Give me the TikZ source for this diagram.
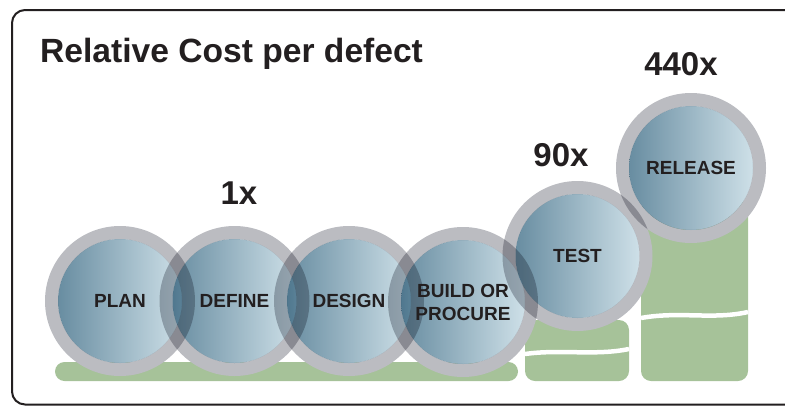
\documentclass[tikz,border=0pt]{standalone}
\usepackage{fontspec}
\setmainfont{Liberation Sans}
\definecolor{ringGray}{RGB}{187,188,193}
\definecolor{stageDark}{RGB}{104,141,161}
\definecolor{stageLight}{RGB}{206,224,232}
\definecolor{barGreen}{RGB}{166,194,153}
\definecolor{inkGray}{RGB}{35,31,32}
\pgfdeclarehorizontalshading{stageShade}{100bp}{color(0bp)=(stageDark); color(25bp)=(stageDark); color(75bp)=(stageLight); color(100bp)=(stageLight)}
\pgfdeclarelayer{bars}
\pgfdeclarelayer{discs}
\pgfsetlayers{bars,discs,main}
\tikzset{
    stage/.style={circle, minimum size=150pt, inner sep=0pt, align=center, text=inkGray,
        font=\fontsize{19}{23}\selectfont\bfseries},
    cost/.style={text=inkGray, font=\fontsize{33}{38}\selectfont\bfseries},
    wave/.style={white, line width=4.5pt},
}

\begin{document}
\begin{tikzpicture}[x=1pt, y=-1pt]
    \useasboundingbox (0,0) rectangle (785,405);
    \clip (0,0) rectangle (785,405);
    \draw[inkGray, line width=2pt, rounded corners=13pt] (12,10) rectangle (830,404.5);
    \node[cost, anchor=base west, inner sep=0pt, font=\fontsize{33.6}{38}\selectfont\bfseries] (title) at (40,62) {Relative Cost per defect};

    \node[stage] (plan) at (120,301) {PLAN};
    \node[stage] (define) at (234.5,301) {DEFINE};
    \node[stage] (design) at (349,301) {DESIGN};
    \node[stage] (build) at (463,302) {BUILD OR\\PROCURE};
    \node[stage] (test) at (577.5,256) {TEST};
    \node[stage] (release) at (691,168) {RELEASE};

    \node[cost] (costEarly) at (239,193) {1x};
    \node[cost] (costTest) at (561,155) {90x};
    \node[cost] (costRelease) at (681,64) {440x};

    % green bars under the stages
    \begin{pgfonlayer}{bars}
        \fill[barGreen, rounded corners=9.5pt] (55,362) rectangle (518,381);
        \fill[barGreen, rounded corners=10pt] (525,320) rectangle (629,381);
        \fill[barGreen, rounded corners=10pt] (641,200) rectangle (748,381);
        \draw[wave] (525,354) .. controls (560,349) and (595,356) .. (629,349);
        \draw[wave] (641,318) .. controls (680,311) and (712,320) .. (748,312);
    \end{pgfonlayer}

    % rings and discs, darker where they overlap
    \begin{pgfonlayer}{discs}
        \begin{scope}[transparency group]
            \begin{scope}[blend mode=multiply]
                \foreach \s in {plan,define,design,build,test,release}{
                    \fill[ringGray, even odd rule] (\s) circle [radius=75pt] circle [radius=62pt];
                    \shade[shading=stageShade] (\s) circle [radius=62pt];
                }
            \end{scope}
        \end{scope}
    \end{pgfonlayer}
\end{tikzpicture}
\end{document}
